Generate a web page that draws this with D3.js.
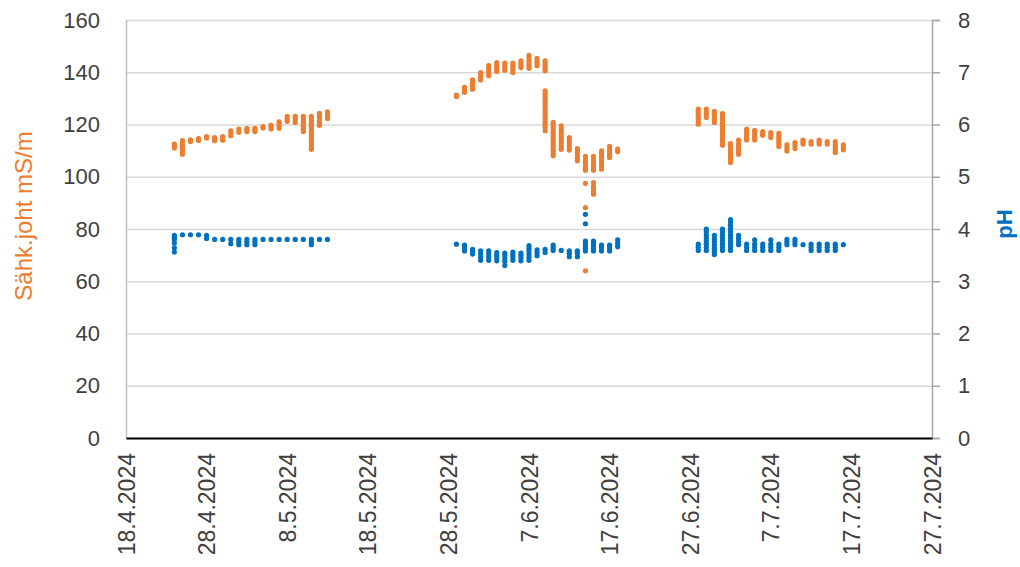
<!DOCTYPE html>
<html>
<head>
<meta charset="utf-8">
<script src="https://cdn.jsdelivr.net/npm/d3@7"></script>
<style>
body { margin: 0; background: #fff; }
text { font-family: "Liberation Sans", Arial, sans-serif; }
</style>
</head>
<body>
<div id="chart"></div>
<script>
// measurement days (several readings per day)
var dates = [
    "24.4.2024", "25.4.2024", "26.4.2024", "27.4.2024", "28.4.2024", "29.4.2024", "30.4.2024",
    "1.5.2024", "2.5.2024", "3.5.2024", "4.5.2024", "5.5.2024", "6.5.2024", "7.5.2024",
    "8.5.2024", "9.5.2024", "10.5.2024", "11.5.2024", "12.5.2024", "13.5.2024",
    "29.5.2024", "30.5.2024", "31.5.2024", "1.6.2024", "2.6.2024", "3.6.2024", "4.6.2024",
    "5.6.2024", "6.6.2024", "7.6.2024", "8.6.2024", "9.6.2024", "10.6.2024", "11.6.2024",
    "12.6.2024", "13.6.2024", "14.6.2024", "15.6.2024", "16.6.2024", "17.6.2024", "18.6.2024",
    "28.6.2024", "29.6.2024", "30.6.2024", "1.7.2024", "2.7.2024", "3.7.2024", "4.7.2024",
    "5.7.2024", "6.7.2024", "7.7.2024", "8.7.2024", "9.7.2024", "10.7.2024", "11.7.2024",
    "12.7.2024", "13.7.2024", "14.7.2024", "15.7.2024", "16.7.2024"
];

// Sähk.joht mS/m, readings of each day
var conductivity = [
    [111, 112, 112.5],
    [108.6, 109.6, 110.6, 111.6, 112.6, 113.8],
    [113.5, 114.1],
    [113.9, 114.6],
    [114.8, 115.4],
    [113.8, 114.5, 115.0],
    [114.0, 114.8, 115.4],
    [115.7, 116.7, 117.6],
    [117.0, 118.2],
    [117.3, 118.0, 118.5],
    [117.3, 118.0, 118.5],
    [118.7, 119.2],
    [118.3, 119.0, 119.7],
    [118.6, 119.5, 120.3, 121.0],
    [121.2, 122.1, 123.1],
    [120.8, 121.8, 122.5, 123.1],
    [117.3, 118.3, 119.3, 120.3, 121.3, 122.3, 123.1],
    [110.5, 111.5, 112.5, 113.5, 114.5, 115.5, 116.5, 117.5, 118.5, 119.5, 120.5, 121.5, 122.5, 123.1],
    [119.7, 120.7, 121.7, 122.7, 123.5, 124.3],
    [122.3, 123.5, 124.8],
    [130.7, 131.3],
    [132.3, 133.2, 134.2],
    [133.5, 134.5, 135.5, 136.3, 137.1],
    [137.0, 138.0, 139.0, 139.9],
    [138.7, 139.7, 140.7, 141.6, 142.5],
    [140.3, 141.2, 142.0, 142.9, 143.7],
    [140.8, 141.7, 142.6, 143.5],
    [139.9, 140.8, 141.7, 142.6, 143.5],
    [141.8, 142.7, 143.5, 144.4],
    [141.5, 142.5, 143.5, 144.5, 145.5, 146.5],
    [142.5, 143.4, 144.3, 145.3],
    [140.6, 141.5, 142.5, 143.5, 144.4, 132.9, 131.9, 130.9, 129.9, 128.9, 127.9, 126.9, 125.9,
        124.9, 123.9, 122.9, 121.9, 120.9, 119.9, 118.9, 117.6],
    [108.0, 109.0, 110.0, 111.0, 112.0, 113.0, 114.0, 115.0, 116.0, 117.0, 118.0, 119.0, 120.0, 120.8],
    [110.5, 111.5, 112.5, 113.5, 114.5, 115.5, 116.5, 117.5, 118.5, 119.5],
    [110.2, 111.2, 112.2, 113.2, 114.2, 115.0],
    [106.1, 107.1, 108.1, 109.1, 110.0, 110.8],
    [102.5, 103.5, 104.5, 105.5, 106.5, 107.8, 97.5, 88.2, 64.0],
    [102.5, 103.5, 104.5, 105.5, 106.5, 107.8, 93.3, 94.3, 95.3, 96.3, 97.8],
    [102.9, 103.9, 104.9, 105.9, 106.9, 107.9, 108.9, 109.9],
    [107.4, 108.4, 109.4, 110.4, 111.6],
    [109.7, 110.6],
    [120.1, 121.0, 122.0, 123.0, 124.0, 125.0, 125.9],
    [122.7, 123.7, 124.7, 125.9],
    [120.8, 121.8, 122.8, 124.0, 125.0],
    [112.1, 113.1, 114.1, 115.1, 116.1, 117.1, 118.1, 119.1, 120.1, 121.1, 122.1, 123.1, 124.2],
    [105.5, 106.5, 107.5, 108.5, 109.5, 110.5, 111.5, 112.7],
    [108.6, 109.6, 110.6, 111.6, 112.6, 114.0],
    [114.1, 115.1, 116.1, 117.1, 118.2],
    [114.1, 115.1, 116.1, 117.0, 117.8],
    [115.9, 116.6, 117.3],
    [115.0, 116.0, 116.9],
    [111.6, 112.6, 113.6, 114.6, 115.6, 116.6],
    [109.9, 110.9, 112.2],
    [110.8, 112.0, 113.1],
    [112.5, 113.2, 114.0],
    [112.5, 113.5],
    [112.5, 113.2, 114.0],
    [112.5, 113.5],
    [109.3, 110.3, 111.3, 112.3, 113.5],
    [110.3, 111.2, 112.2]
];

// pH, readings of each day
var ph = [
    [3.56, 3.64, 3.73, 3.80, 3.84, 3.88],
    [3.89],
    [3.89],
    [3.89],
    [3.82, 3.88],
    [3.80],
    [3.80],
    [3.72, 3.80],
    [3.70, 3.75, 3.80],
    [3.70, 3.75, 3.80],
    [3.70, 3.75, 3.80],
    [3.80],
    [3.80],
    [3.80],
    [3.80],
    [3.80],
    [3.80],
    [3.70, 3.75, 3.80],
    [3.80],
    [3.80],
    [3.71],
    [3.58, 3.64, 3.69],
    [3.52, 3.57, 3.61],
    [3.40, 3.46, 3.52, 3.58],
    [3.40, 3.46, 3.52, 3.58],
    [3.39, 3.45, 3.50, 3.55],
    [3.30, 3.38, 3.44, 3.50, 3.54],
    [3.40, 3.46, 3.51, 3.56],
    [3.39, 3.45, 3.50, 3.54],
    [3.40, 3.46, 3.52, 3.58, 3.63, 3.68],
    [3.49, 3.55, 3.60],
    [3.55, 3.61],
    [3.59, 3.64, 3.69],
    [3.59],
    [3.47, 3.53, 3.58],
    [3.47, 3.53, 3.58],
    [3.58, 3.63, 3.68, 3.73, 3.77, 4.10, 4.28],
    [3.58, 3.63, 3.68, 3.73, 3.77],
    [3.58, 3.64, 3.69],
    [3.58, 3.64, 3.69],
    [3.66, 3.72, 3.79],
    [3.59, 3.65, 3.71],
    [3.59, 3.65, 3.71, 3.77, 3.83, 3.89, 3.95, 4.00],
    [3.51, 3.57, 3.63, 3.69, 3.75, 3.81, 3.88],
    [3.59, 3.65, 3.71, 3.77, 3.83, 3.89, 3.95, 4.00],
    [3.59, 3.65, 3.71, 3.77, 3.83, 3.89, 3.95, 4.01, 4.07, 4.13, 4.18],
    [3.70, 3.76, 3.82, 3.88],
    [3.59, 3.65, 3.71],
    [3.59, 3.65, 3.71, 3.79],
    [3.59, 3.65, 3.71],
    [3.59, 3.65, 3.71, 3.79],
    [3.59, 3.65, 3.71],
    [3.70, 3.75, 3.80],
    [3.70, 3.75, 3.80],
    [3.70],
    [3.59, 3.65, 3.71],
    [3.59, 3.65, 3.71],
    [3.59, 3.65, 3.71],
    [3.59, 3.65, 3.71],
    [3.70]
];

var xTickLabels = ["18.4.2024", "28.4.2024", "8.5.2024", "18.5.2024", "28.5.2024", "7.6.2024",
    "17.6.2024", "27.6.2024", "7.7.2024", "17.7.2024", "27.7.2024"];
var condTicks = [0, 20, 40, 60, 80, 100, 120, 140, 160];
var phTicks = [0, 1, 2, 3, 4, 5, 6, 7, 8];

var svgWidth = 1020;
var svgHeight = 567;

var margin = {
    top: 20,
    right: 88,
    bottom: 129,
    left: 126
};

var width = svgWidth - margin.left - margin.right;
var height = svgHeight - margin.top - margin.bottom;

var parseDate = d3.timeParse("%d.%m.%Y");

var svg = d3.select("#chart")
    .append("svg")
    .attr("width", svgWidth)
    .attr("height", svgHeight);

var chartGroup = svg.append("g")
    .attr("transform", `translate(${margin.left}, ${margin.top})`);

// flatten daily readings into points
var condPoints = [];
var phPoints = [];
dates.forEach(function(d, i) {
    var date = parseDate(d);
    conductivity[i].forEach(v => condPoints.push({ date: date, value: v }));
    ph[i].forEach(v => phPoints.push({ date: date, value: v }));
});

var tickDates = xTickLabels.map(parseDate);

var xScale = d3.scaleTime()
    .domain([tickDates[0], tickDates[tickDates.length - 1]])
    .range([0, width]);

var yLeft = d3.scaleLinear().domain([0, 160]).range([height, 0]);
var yRight = d3.scaleLinear().domain([0, 8]).range([height, 0]);

// gridlines
chartGroup.append("g")
    .attr("class", "grid")
    .call(d3.axisLeft(yLeft).tickValues(condTicks).tickSize(-width).tickFormat(""))
    .call(g => g.select(".domain").remove())
    .selectAll("line")
    .attr("stroke", "#d9d9d9")
    .attr("stroke-width", 1.5);

// left axis
var leftAxis = chartGroup.append("g")
    .call(d3.axisLeft(yLeft).tickValues(condTicks).tickSize(0).tickPadding(26));
leftAxis.select(".domain").attr("stroke", "#bfbfbf").attr("stroke-width", 1.5);
leftAxis.selectAll("text")
    .attr("font-size", "22px")
    .attr("fill", "#404040")
    .style("font-family", "Liberation Sans, Arial, sans-serif");

// right axis
var rightAxis = chartGroup.append("g")
    .attr("transform", `translate(${width}, 0)`)
    .call(d3.axisRight(yRight).tickValues(phTicks).tickSizeOuter(0).tickSize(8).tickPadding(18));
rightAxis.select(".domain").attr("stroke", "#a6a6a6").attr("stroke-width", 1.5);
rightAxis.selectAll("line").attr("stroke", "#a6a6a6").attr("stroke-width", 1.5);
rightAxis.selectAll("text")
    .attr("font-size", "22px")
    .attr("fill", "#404040")
    .style("font-family", "Liberation Sans, Arial, sans-serif");

// x axis
var xAxis = chartGroup.append("g")
    .attr("transform", `translate(0, ${height})`)
    .call(d3.axisBottom(xScale).tickValues(tickDates).tickSize(0).tickSizeOuter(0)
        .tickFormat((d, i) => xTickLabels[i]));
xAxis.select(".domain").attr("stroke", "#000").attr("stroke-width", 2);
xAxis.selectAll("text")
    .attr("transform", "rotate(-90)")
    .attr("text-anchor", "end")
    .attr("x", -15)
    .attr("y", 0)
    .attr("dy", "0.35em")
    .attr("font-size", "23px")
    .attr("fill", "#404040")
    .style("font-family", "Liberation Sans, Arial, sans-serif");

// conductivity points
chartGroup.append("g")
    .selectAll("circle")
    .data(condPoints)
    .enter()
    .append("circle")
    .attr("cx", d => xScale(d.date))
    .attr("cy", d => yLeft(d.value))
    .attr("r", 2.6)
    .attr("fill", "#ED7D31");

// pH points
chartGroup.append("g")
    .selectAll("circle")
    .data(phPoints)
    .enter()
    .append("circle")
    .attr("cx", d => xScale(d.date))
    .attr("cy", d => yRight(d.value))
    .attr("r", 2.6)
    .attr("fill", "#0070C0");

// axis titles
svg.append("text")
    .attr("transform", "translate(32, 216) rotate(-90)")
    .attr("text-anchor", "middle")
    .attr("font-size", "24px")
    .attr("fill", "#ED7D31")
    .text("Sähk.joht mS/m");

svg.append("text")
    .attr("transform", "translate(1012, 224) rotate(-90)")
    .attr("text-anchor", "middle")
    .attr("font-size", "22px")
    .attr("font-weight", "bold")
    .attr("fill", "#0070C0")
    .text("pH");
</script>
</body>
</html>
